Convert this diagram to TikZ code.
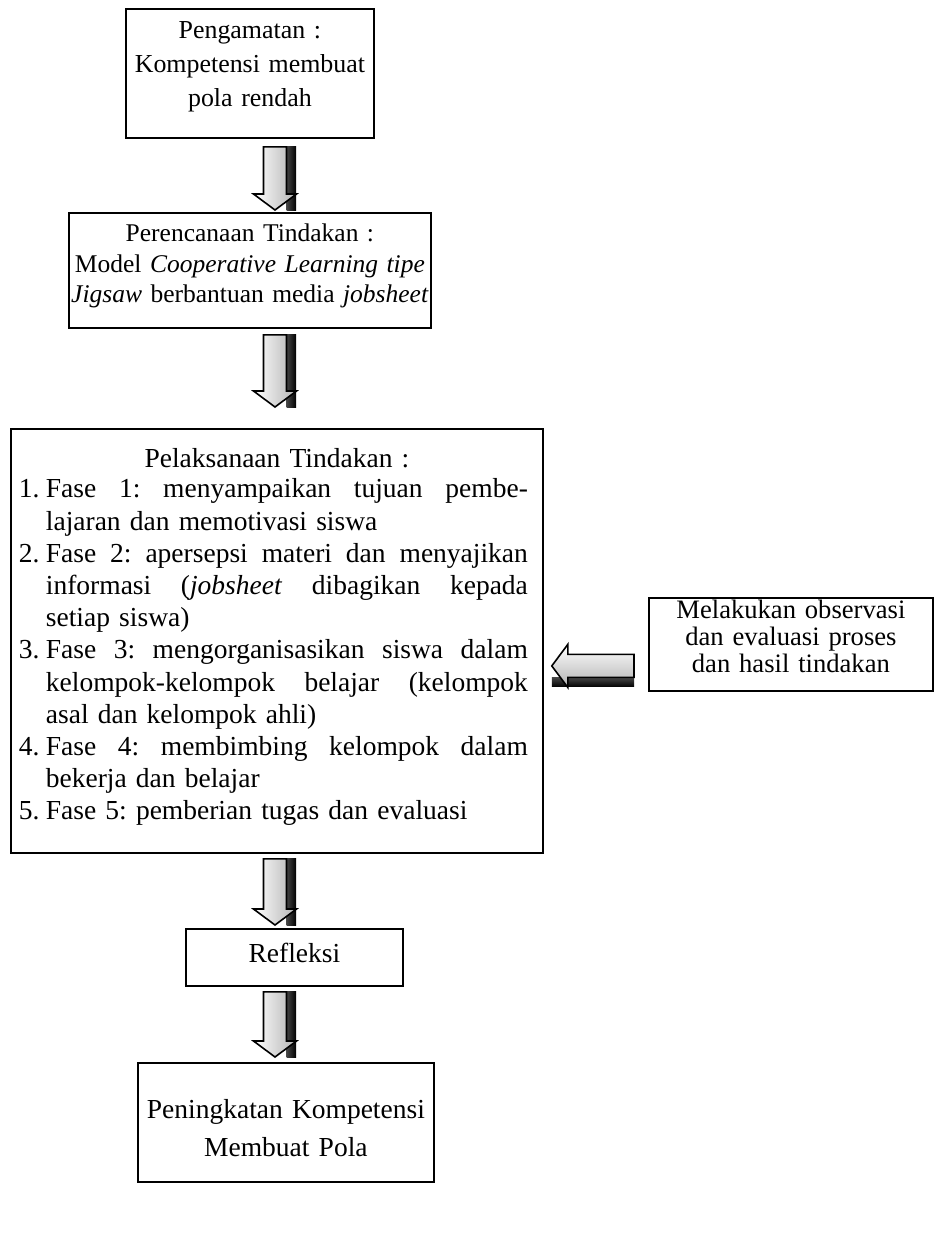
\documentclass[tikz,border=0pt]{standalone}
\usepackage{fontspec}
\setmainfont{Liberation Serif}
\usetikzlibrary{calc}

\newcommand{\fsize}[2]{\fontsize{#1pt}{#2pt}\selectfont\frenchspacing}
% one numbered line (justified) and its follow-up line
\newcommand{\justline}[1]{\makebox[241pt][s]{\spaceskip=0.25em plus 1em minus 0.05em\relax #1}}
\newcommand{\faseline}[2]{\makebox[13.5pt][l]{#1}\justline{#2}}
\newcommand{\faserest}[1]{\hspace*{13.5pt}#1}

% shaded block arrow pointing down, from box #1 to box #2
\newcommand{\downblock}[4]{%
  \path ($(#1.south -| axis)+(0,#3)$) coordinate (t)
        ($(#2.north -| axis)+(0,-#4)$) coordinate (h);
  \shade[left color=gray!55!black, right color=black]
    ($(t)+(11.5,0)$) rectangle ($(h)+(21,0)$);
  \shade[draw=black, line width=0.8pt, left color=white, right color=gray!60]
    ($(t)+(-11.5,0)$) -- ($(t)+(11.5,0)$) -- ($(h)+(11.5,-16)$)
    -- ($(h)+(21.5,-16)$) -- (h) -- ($(h)+(-21.5,-16)$)
    -- ($(h)+(-11.5,-16)$) -- cycle;
}
% shaded block arrow pointing left, from box #1 to box #2
\newcommand{\leftblock}[2]{%
  \path ($(#1.west)+(-14,21.5)$) coordinate (t)
        ($(#2.east |- #1.west)+(8,21.5)$) coordinate (h);
  \shade[top color=gray!55!black, bottom color=black]
    ($(h)+(0,11.5)$) rectangle ($(t)+(0,21)$);
  \shade[draw=black, line width=0.8pt, top color=white, bottom color=gray!60]
    ($(t)+(0,-11.5)$) -- ($(t)+(0,11.5)$) -- ($(h)+(16,11.5)$)
    -- ($(h)+(16,21.5)$) -- (h) -- ($(h)+(16,-21.5)$)
    -- ($(h)+(16,-11.5)$) -- cycle;
}

\begin{document}
\begin{tikzpicture}[x=0.5pt, y=-0.5pt,
  box/.style={draw, line width=0.9pt, inner xsep=0pt, inner ysep=0pt,
    align=center, anchor=north west}]
\useasboundingbox (0,0) rectangle (935,1233);
\coordinate (axis) at (275,0);

% main column
\node[box, text width=124pt, text height=15pt, text depth=49.5pt,
  font=\fsize{12.95}{17}] (obs) at (125,8)
  {Pengamatan :\\[0pt]Kompetensi membuat\\pola rendah};
\node[box, text width=181pt, text height=14.5pt, text depth=43pt,
  font=\fsize{12.75}{15}] (plan) at (68,212)
  {Perencanaan Tindakan :\\[0.5pt]Model \textit{Cooperative Learning tipe}\\
   \textit{Jigsaw} berbantuan media \textit{jobsheet}};
\node[box, align=left, inner xsep=4pt, text width=258pt, text height=19.5pt,
  text depth=192.5pt, font=\fsize{13.75}{16.1}] (act) at (10,428)
  {\makebox[\linewidth]{Pelaksanaan Tindakan :}\\[-1.1pt]
   \faseline{1.}{Fase 1: menyampaikan tujuan pembe-}\\
   \faserest{lajaran dan memotivasi siswa}\\
   \faseline{2.}{Fase 2: apersepsi materi dan menyajikan}\\
   \faserest{\justline{informasi (\textit{jobsheet} dibagikan kepada}}\\
   \faserest{setiap siswa)}\\
   \faseline{3.}{Fase 3: mengorganisasikan siswa dalam}\\
   \faserest{\justline{kelompok-kelompok belajar (kelompok}}\\
   \faserest{asal dan kelompok ahli)}\\
   \faseline{4.}{Fase 4: membimbing kelompok dalam}\\
   \faserest{bekerja dan belajar}\\
   \makebox[13.5pt][l]{5.}Fase 5: pemberian tugas dan evaluasi};
\node[box, text width=108.5pt, text height=17pt, text depth=11.5pt,
  font=\fsize{13.75}{16}] (refl) at (185,928)
  {Refleksi};
\node[box, text width=148pt, text height=28pt, text depth=31.5pt,
  font=\fsize{13.75}{19}] (gain) at (137,1062)
  {Peningkatan Kompetensi\\Membuat Pola};

% side box
\node[box, text width=142pt, text height=10.5pt, text depth=36pt,
  font=\fsize{13.3}{13.5}] (eval) at (648,597)
  {Melakukan observasi\\dan evaluasi proses\\dan hasil tindakan};

% arrows
\foreach \a/\b/\ga/\gb in {obs/plan/8/2, plan/act/6/21, act/refl/5/3, refl/gain/5/5} {
  \downblock{\a}{\b}{\ga}{\gb}
}
\leftblock{eval}{act}
\end{tikzpicture}
\end{document}
